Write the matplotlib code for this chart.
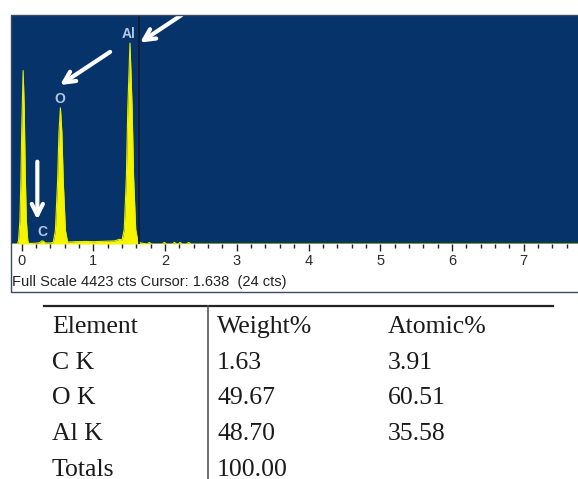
import matplotlib
matplotlib.use("Agg")
import matplotlib.pyplot as plt
from matplotlib.patches import Rectangle
from matplotlib.ticker import MultipleLocator

# spectre EDS (keV, coups)
energie_kev = [-0.15, -0.06, -0.045, -0.025, -0.01, 0.0, 0.02, 0.035, 0.05, 0.065, 0.085, 0.10,
               0.20, 0.25, 0.28, 0.30, 0.33, 0.40,
               0.44, 0.47, 0.50, 0.52, 0.54, 0.56, 0.58, 0.61, 0.64, 0.68,
               0.75, 0.90, 1.00, 1.10, 1.20, 1.30, 1.36,
               1.40, 1.43, 1.46, 1.48, 1.51, 1.54, 1.56, 1.59, 1.62, 1.66,
               1.75, 1.78, 1.81, 1.96, 1.99, 2.02, 2.10, 2.13, 2.16, 2.18, 2.21, 2.24,
               2.30, 2.33, 2.36, 2.50, 7.80]
coups = [0, 0, 60, 450, 1320, 2200, 3350, 2640, 1320, 450, 60, 10,
         15, 25, 60, 55, 20, 20,
         30, 260, 1200, 2160, 2630, 2160, 1200, 260, 40, 40,
         45, 50, 45, 50, 55, 60, 90,
         80, 280, 1310, 2630, 3880, 2630, 1310, 280, 50, 20,
         0, 30, 0, 0, 30, 0, 0, 30, 0, 0, 30, 0,
         0, 30, 0, 0, 0]

pleine_echelle = 4423
curseur = 1.638
curseur_coups = 24

# pics annotés : (nom, energie, coups)
pics = [("Al", 1.497, 4060), ("O", 0.534, 2800), ("C", 0.283, 232)]
# flèches : (pointe, queue)
fleches = [((1.65, 3890), (2.23, 4423)),
           ((0.534, 3070), (1.233, 3710)),
           ((0.218, 470), (0.218, 1590))]

# tableau de composition
elements = ["C K", "O K", "Al K", "Totals"]
poids = ["1.63", "49.67", "48.70", "100.00"]
atomique = ["3.91", "60.51", "35.58", ""]

W, H = 578, 479
fig = plt.figure(figsize=(W / 100, H / 100), dpi=100)

bleu = "#06336a"
ax = fig.add_axes([11 / W, 1 - 244 / H, (W - 11) / W, (244 - 15) / H])
ax.set_facecolor(bleu)
ax.fill_between(energie_kev, coups, color="#f5f500", lw=0)
ax.plot(energie_kev, coups, color="#e8f000", lw=0.8)
ax.axvline(curseur, color="#101c33", lw=1.3)
ax.set_xlim((11 - 21.7) / 71.7, (W - 21.7) / 71.7)
ax.set_ylim(0, pleine_echelle)
for s in ax.spines.values():
    s.set_visible(False)
ax.set_yticks([])
ax.xaxis.set_major_locator(MultipleLocator(1))
ax.xaxis.set_minor_locator(MultipleLocator(0.2))
ax.tick_params(axis="x", which="major", direction="out", length=5, width=1, color="#222222",
               pad=2, labelsize=10.5, labelcolor="#2a2a2a")
ax.tick_params(axis="x", which="minor", direction="out", length=3, width=1, color="#222222")
for lab in ax.get_xticklabels():
    lab.set_family("Liberation Sans")

for nom, e, c in pics:
    ax.text(e, c, nom, color="#b4c8e6", fontsize=10, fontweight="bold",
            family="Liberation Sans", ha="center", va="center")
for pointe, queue in fleches:
    ax.annotate("", xy=pointe, xytext=queue,
                arrowprops=dict(arrowstyle="->", color="white", lw=3, mutation_scale=20,
                                shrinkA=0, shrinkB=0))

# cadre et texte du bandeau
fig.patches.append(Rectangle((11 / W, 1 - 292 / H), (W - 5) / W, (292 - 15) / H,
                             transform=fig.transFigure, fill=False, ec="#3a4a60", lw=1))
fig.text(12 / W, 1 - 282 / H,
         f"Full Scale {pleine_echelle} cts Cursor: {curseur:.3f}  ({curseur_coups} cts)",
         fontsize=10.5, family="Liberation Sans", color="#222222", va="center", ha="left")

# tableau
tab = fig.add_axes([0, 0, 1, 1])
tab.set_xlim(0, W)
tab.set_ylim(H, 0)
tab.axis("off")
tab.plot([44, 553], [306, 306], color="#222222", lw=1.6)
tab.plot([208, 208], [306, H], color="#555555", lw=1.2)
police = dict(family="Liberation Serif", fontsize=18.5, color="#1a1a1a", va="baseline", ha="left")
tab.text(52, 333, "Element", **police)
tab.text(217, 333, "Weight%", **police)
tab.text(388, 333, "Atomic%", **police)
for i in range(len(elements)):
    y = 369 + i * 35.5
    tab.text(52, y, elements[i], **police)
    tab.text(217, y, poids[i], **police)
    tab.text(388, y, atomique[i], **police)

fig.savefig("out.png", dpi=100)
